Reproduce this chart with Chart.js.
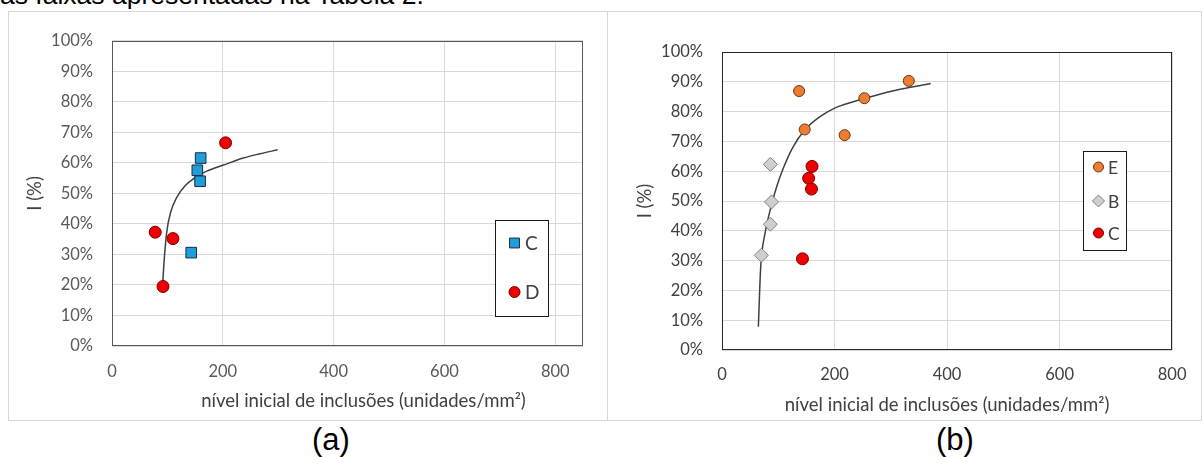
<!DOCTYPE html>
<html lang="pt">
<head>
<meta charset="utf-8">
<title>I x nível inicial de inclusões</title>
<script src="https://cdn.jsdelivr.net/npm/chart.js@4.4.1/dist/chart.umd.min.js"></script>
<style>
  body {
    margin: 0;
    width: 1203px;
    height: 457px;
    background: #fff;
    position: relative;
    overflow: hidden;
    font-family: 'Liberation Sans', Arial, sans-serif;
  }
  .lead {
    position: absolute;
    left: 0;
    top: -18px;
    font-size: 26.5px;
    line-height: 27px;
    white-space: nowrap;
    color: #000;
  }
  .panel {
    position: absolute;
    top: 11px;
    height: 410px;
    border: 1px solid #d9d9d9;
    box-sizing: border-box;
  }
  #panelA { left: 8px; width: 600px; }
  #panelB { left: 607px; width: 595px; }
  .panel canvas { display: block; }
  .tag {
    position: absolute;
    top: 423px;
    width: 80px;
    text-align: center;
    font-size: 31px;
    line-height: 34px;
    color: #000;
  }
</style>
</head>
<body>
<div class="lead">as faixas apresentadas na Tabela 2.</div>
<div class="panel" id="panelA"><canvas id="chartA" width="598" height="408"></canvas></div>
<div class="panel" id="panelB"><canvas id="chartB" width="593" height="408"></canvas></div>
<div class="tag" style="left:291px">(a)</div>
<div class="tag" style="left:915px">(b)</div>

<script>
const xTicks = [0, 200, 400, 600, 800];
const yTicks = [0, 10, 20, 30, 40, 50, 60, 70, 80, 90, 100];

// grupo C (aparece nos dois gráficos)
const cX = [160, 154, 159, 143];
const cY = [61.6, 57.6, 54.0, 30.6];
// grupo D
const dX = [205, 78, 110, 92];
const dY = [66.6, 37.3, 35.2, 19.5];
// grupo E
const eX = [137, 253, 332, 147, 218];
const eY = [86.9, 84.5, 90.3, 74.0, 72.1];
// grupo B
const bX = [86, 88, 86, 70];
const bY = [62.3, 49.7, 42.2, 31.8];

// linhas de tendência
const trendAX = [91.6, 94, 98.8, 106, 116.9, 131.9, 150, 171, 201, 237, 267, 299];
const trendAY = [20.7, 27.7, 37.4, 43.9, 48.7, 52.5, 55.2, 57.3, 59.3, 61.6, 63.0, 64.3];
const trendBX = [64.6, 68.8, 76.4, 87, 97, 108.7, 126.4, 147, 173.5, 203, 253, 309, 371];
const trendBY = [7.8, 27.9, 39.1, 48.0, 54.7, 60.9, 68.2, 73.8, 78.2, 81.4, 84.4, 87.2, 89.4];

const xTitle = 'nível inicial de inclusões (unidades/mm²)';
const yTitle = 'I (%)';

const FONT = 'Lato, "Open Sans", sans-serif';

function pts(xs, ys) {
  return xs.map((x, i) => ({ x: x, y: ys[i] }));
}

// contorno completo da área de plotagem
function plotFrame(color) {
  return {
    id: 'plotFrame',
    beforeDatasetsDraw(chart) {
      const { ctx, chartArea: a } = chart;
      ctx.save();
      ctx.strokeStyle = color;
      ctx.lineWidth = 1;
      ctx.strokeRect(Math.round(a.left) + 0.5, Math.round(a.top) + 0.5,
        Math.round(a.right - a.left) - 1, Math.round(a.bottom - a.top) - 1);
      ctx.restore();
    }
  };
}

// título do eixo x, com deslocamento horizontal
function xCaption(cfg) {
  return {
    id: 'xCaption',
    afterDraw(chart) {
      const { ctx, chartArea: a } = chart;
      ctx.save();
      ctx.font = cfg.size + 'px ' + FONT;
      ctx.fillStyle = cfg.color;
      ctx.textAlign = 'center';
      ctx.textBaseline = 'middle';
      ctx.fillText(xTitle, (a.left + a.right) / 2 + cfg.dx, cfg.y);
      ctx.restore();
    }
  };
}

// legenda em caixa dentro da área de plotagem
function boxLegend(cfg) {
  return {
    id: 'boxLegend',
    afterDatasetsDraw(chart) {
      const ctx = chart.ctx;
      const b = cfg.box;
      ctx.save();
      ctx.fillStyle = '#fff';
      ctx.fillRect(b.x, b.y, b.w, b.h);
      ctx.strokeStyle = '#1a1a1a';
      ctx.lineWidth = 1;
      ctx.strokeRect(b.x + 0.5, b.y + 0.5, b.w, b.h);
      cfg.rows.forEach(row => {
        const ds = chart.data.datasets[row.index];
        ctx.fillStyle = ds.backgroundColor;
        ctx.strokeStyle = ds.borderColor;
        ctx.lineWidth = ds.borderWidth;
        Chart.helpers.drawPoint(ctx, {
          pointStyle: ds.pointStyle,
          radius: row.r,
          rotation: 0,
          borderWidth: ds.borderWidth
        }, cfg.markerX, row.y);
        ctx.fillStyle = cfg.color;
        ctx.font = cfg.size + 'px ' + FONT;
        ctx.textAlign = 'left';
        ctx.textBaseline = 'middle';
        ctx.fillText(ds.label, cfg.textX, row.y + 1);
      });
      ctx.restore();
    }
  };
}

function makeChart(id, o) {
  return new Chart(document.getElementById(id), {
    type: 'scatter',
    data: { datasets: o.datasets },
    options: {
      responsive: false,
      animation: false,
      events: [],
      layout: { padding: { top: o.top, right: o.right, left: 0, bottom: 0 } },
      plugins: { legend: { display: false }, tooltip: { enabled: false } },
      scales: {
        x: {
          type: 'linear',
          min: 0,
          max: o.xMax,
          afterBuildTicks: s => { s.ticks = xTicks.map(v => ({ value: v })); },
          afterFit: s => { s.height = o.xAxisH; },
          grid: { color: '#d9d9d9', lineWidth: 1, drawTicks: false },
          border: { display: false },
          ticks: { padding: o.xPad, color: o.tickColor, font: { family: FONT, size: 16.5 } }
        },
        y: {
          type: 'linear',
          min: 0,
          max: 100,
          afterBuildTicks: s => { s.ticks = yTicks.map(v => ({ value: v })); },
          afterFit: s => { s.width = o.yAxisW; },
          grid: { color: '#d9d9d9', lineWidth: 1, drawTicks: false },
          border: { display: false },
          ticks: {
            padding: 19,
            color: o.tickColor,
            font: { family: FONT, size: 16.5 },
            callback: v => v + '%'
          },
          title: {
            display: true,
            text: yTitle,
            color: o.titleColor,
            font: { family: FONT, size: 18.5 },
            padding: { top: o.yTitlePad, bottom: 0 }
          }
        }
      }
    },
    plugins: [plotFrame(o.frameColor), xCaption(o.caption), boxLegend(o.legend)]
  });
}

const trendStyle = {
  showLine: true,
  pointRadius: 0,
  borderColor: '#404040',
  borderWidth: 1.5,
  cubicInterpolationMode: 'monotone',
  order: 10
};

function draw() {
  makeChart('chartA', {
    top: 24, right: 24, yAxisW: 103, xAxisH: 74, xMax: 850, xPad: 15.5,
    yTitlePad: 14.9,
    tickColor: '#595959', titleColor: '#404040', frameColor: '#595959',
    caption: { dx: 16, y: 389, size: 18.5, color: '#404040' },
    legend: {
      box: { x: 486, y: 208, w: 53, h: 96 },
      markerX: 505.5, textX: 516, size: 19, color: '#404040',
      rows: [{ index: 0, y: 231, r: 7 }, { index: 1, y: 280, r: 5.5 }]
    },
    datasets: [
      {
        label: 'C', data: pts(cX, cY), pointStyle: 'rect', pointRadius: 7.5,
        backgroundColor: '#1f9fd9', borderColor: '#1b2a40', borderWidth: 1, order: 1
      },
      {
        label: 'D', data: pts(dX, dY), pointStyle: 'circle', pointRadius: 6,
        backgroundColor: '#ee0000', borderColor: '#7a0000', borderWidth: 1, order: 2
      },
      Object.assign({ label: 'tendência', data: pts(trendAX, trendAY) }, trendStyle)
    ]
  });

  makeChart('chartB', {
    top: 40, right: 26, yAxisW: 114, xAxisH: 70, xMax: 800, xPad: 14.5,
    yTitlePad: 25.9,
    tickColor: '#404040', titleColor: '#404040', frameColor: '#262626',
    caption: { dx: 0, y: 393, size: 18.5, color: '#404040' },
    legend: {
      box: { x: 475, y: 139, w: 43, h: 99 },
      markerX: 490.5, textX: 500, size: 17.5, color: '#404040',
      rows: [{ index: 0, y: 155, r: 5 }, { index: 1, y: 189, r: 6 }, { index: 2, y: 221, r: 5 }]
    },
    datasets: [
      {
        label: 'E', data: pts(eX, eY), pointStyle: 'circle', pointRadius: 5.5,
        backgroundColor: '#ed7d31', borderColor: '#6b3410', borderWidth: 1, order: 1
      },
      {
        label: 'B', data: pts(bX, bY), pointStyle: 'rectRot', pointRadius: 7,
        backgroundColor: '#cfcfcf', borderColor: '#7f7f7f', borderWidth: 1, order: 2
      },
      {
        label: 'C', data: pts(cX, cY), pointStyle: 'circle', pointRadius: 6,
        backgroundColor: '#ee0000', borderColor: '#7a0000', borderWidth: 1, order: 3
      },
      Object.assign({ label: 'tendência', data: pts(trendBX, trendBY) }, trendStyle)
    ]
  });
}

if (document.fonts && document.fonts.load) {
  document.fonts.load('16px Lato').then(draw, draw);
} else {
  draw();
}
</script>
</body>
</html>
